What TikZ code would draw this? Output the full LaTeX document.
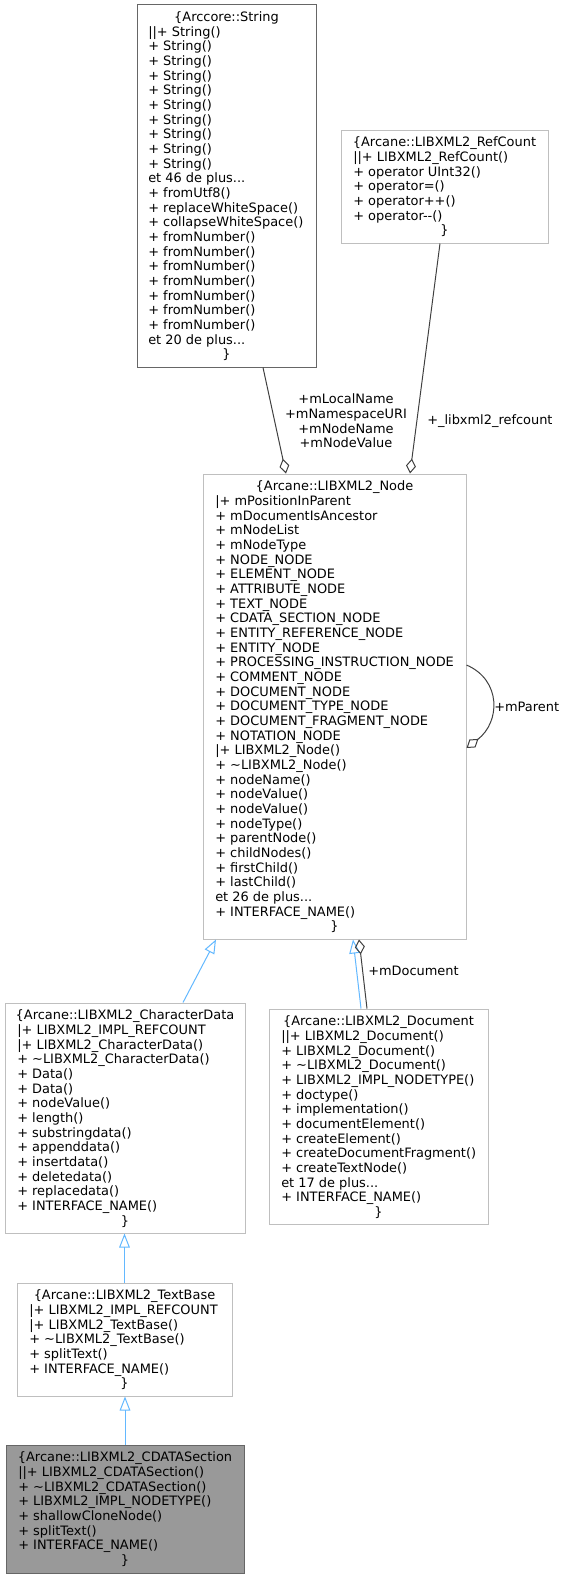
\documentclass[tikz,border=0pt]{standalone}
\usepackage{fontspec}
\setmainfont{DejaVu Sans}
\usetikzlibrary{arrows.meta,fit,calc}
\definecolor{boxline}{HTML}{BFBFBF}
\definecolor{edgegray}{HTML}{404040}
\definecolor{inhblue}{HTML}{63B8FF}
\definecolor{curfill}{HTML}{999999}
\definecolor{curline}{HTML}{666666}
\newcommand\trdots{...}
\newcommand\linesin[3]{% left, top, list
  \foreach \t [count=\i] in {#3} {
    \node[umltxt, anchor=base west] at ({#1+12}, {#2+16.8+\i*14.667}) {\t};
  }
}
\newcommand\titlein[4]{% centre x, top, title, index of closing brace
  \node[umltxt, anchor=base] at ({#1}, {#2+16.8}) {#3};
  \node[umltxt, anchor=base] at ({#1}, {#2+16.8+#4*14.667}) {\}};
}
\begin{document}
\begin{tikzpicture}[x=0.75pt,y=-0.75pt,
  umlbox/.style={draw=boxline, line width=0.75pt, inner sep=0pt, fill=white},
  extbox/.style={draw=curline, line width=0.75pt, inner sep=0pt, fill=white},
  curbox/.style={draw=curline, line width=0.75pt, inner sep=0pt, fill=curfill},
  umltxt/.style={inner sep=0pt, font=\fontsize{9.7pt}{11pt}\selectfont},
  agg/.style={draw=edgegray, line width=0.75pt, -{Diamond[open, length=11.25pt, width=7.5pt]}},
  inh/.style={draw=inhblue, line width=0.75pt, -{Triangle[open, length=10.5pt, width=8pt]}}]
\useasboundingbox (0,0) rectangle (565,1579);

% boxes
\node[extbox, fit={(137,4.7) (316,367)}] (str) {};
\node[umlbox, fit={(341,130) (548,243)}] (ref) {};
\node[umlbox, fit={(203,474) (466,939)}] (nod) {};
\node[umlbox, fit={(5,1003) (245,1233)}] (cd) {};
\node[umlbox, fit={(269,1009) (488,1224.7)}] (doc) {};
\node[umlbox, fit={(17,1283) (232,1396)}] (tb) {};
\node[curbox, fit={(6,1445) (244,1573)}] (cds) {};

% String
\titlein{226.5}{4.7}{\{Arccore::String}{23}
\linesin{136}{4.7}{||+ String(),+ String(),+ String(),+ String(),+ String(),+ String(),+ String(),+ String(),+ String(),+ String(),et 46 de plus\trdots,+ fromUtf8(),+ replaceWhiteSpace(),+ collapseWhiteSpace(),+ fromNumber(),+ fromNumber(),+ fromNumber(),+ fromNumber(),+ fromNumber(),+ fromNumber(),+ fromNumber(),et 20 de plus\trdots}

% RefCount
\titlein{444.5}{130}{\{Arcane::LIBXML2\_RefCount}{6}
\linesin{341}{130}{||+ LIBXML2\_RefCount(),+ operator UInt32(),+ operator=(),+ operator++(),+ operator-\kern0pt-()}

% Node
\titlein{334.5}{474}{\{Arcane::LIBXML2\_Node}{30}
\linesin{203}{474}{|+ mPositionInParent,+ mDocumentIsAncestor,+ mNodeList,+ mNodeType,+ NODE\_NODE,+ ELEMENT\_NODE,+ ATTRIBUTE\_NODE,+ TEXT\_NODE,+ CDATA\_SECTION\_NODE,+ ENTITY\_REFERENCE\_NODE,+ ENTITY\_NODE,+ PROCESSING\_INSTRUCTION\_NODE,+ COMMENT\_NODE,+ DOCUMENT\_NODE,+ DOCUMENT\_TYPE\_NODE,+ DOCUMENT\_FRAGMENT\_NODE,+ NOTATION\_NODE,|+ LIBXML2\_Node(),+ \textasciitilde LIBXML2\_Node(),+ nodeName(),+ nodeValue(),+ nodeValue(),+ nodeType(),+ parentNode(),+ childNodes(),+ firstChild(),+ lastChild(),et 26 de plus\trdots,+ INTERFACE\_NAME()}

% CharacterData
\titlein{125}{1003}{\{Arcane::LIBXML2\_CharacterData}{14}
\linesin{5}{1003}{|+ LIBXML2\_IMPL\_REFCOUNT,|+ LIBXML2\_CharacterData(),+ \textasciitilde LIBXML2\_CharacterData(),+ Data(),+ Data(),+ nodeValue(),+ length(),+ substringdata(),+ appenddata(),+ insertdata(),+ deletedata(),+ replacedata(),+ INTERFACE\_NAME()}

% Document
\titlein{378.5}{1009}{\{Arcane::LIBXML2\_Document}{13}
\linesin{269}{1009}{||+ LIBXML2\_Document(),+ LIBXML2\_Document(),+ \textasciitilde LIBXML2\_Document(),+ LIBXML2\_IMPL\_NODETYPE(),+ doctype(),+ implementation(),+ documentElement(),+ createElement(),+ createDocumentFragment(),+ createTextNode(),et 17 de plus\trdots,+ INTERFACE\_NAME()}

% TextBase
\titlein{124.5}{1283}{\{Arcane::LIBXML2\_TextBase}{6}
\linesin{17}{1283}{|+ LIBXML2\_IMPL\_REFCOUNT,|+ LIBXML2\_TextBase(),+ \textasciitilde LIBXML2\_TextBase(),+ splitText(),+ INTERFACE\_NAME()}

% CDATASection
\titlein{125}{1445}{\{Arcane::LIBXML2\_CDATASection}{7}
\linesin{6}{1445}{||+ LIBXML2\_CDATASection(),+ \textasciitilde LIBXML2\_CDATASection(),+ LIBXML2\_IMPL\_NODETYPE(),+ shallowCloneNode(),+ splitText(),+ INTERFACE\_NAME()}

% connectors
\draw[agg] ([xshift=27.375pt]str.south) -- ([xshift=-36.375pt]nod.north);
\draw[agg] ([xshift=-3.375pt]ref.south) -- ([xshift=56.625pt]nod.north);
\draw[agg] ([yshift=31.125pt]nod.east) .. controls +(35,15) and +(34,-26) .. ([yshift=-31.125pt]nod.east);
\draw[inh] ([xshift=43.5pt]cd.north) -- ([xshift=-88.875pt]nod.south);
\draw[inh] ([xshift=-13.125pt]doc.north) -- ([xshift=13.875pt]nod.south);
\draw[agg] ([xshift=-8.625pt]doc.north) -- ([xshift=18.375pt]nod.south);
\draw[inh] (tb.north) -- (tb.north |- cd.south);
\draw[inh] (cds.north) -- (cds.north |- tb.south);

% edge labels
\node[umltxt, align=center] (lblstr) at (346,421) {+mLocalName\\+mNamespaceURI\\+mNodeName\\+mNodeValue};
\node[umltxt, anchor=west] (lblref) at (427,421) {+\_libxml2\_refcount};
\node[umltxt, anchor=west] (lblpar) at (494,707) {+mParent};
\node[umltxt, anchor=west] (lbldoc) at (368,971) {+mDocument};
\end{tikzpicture}
\end{document}
